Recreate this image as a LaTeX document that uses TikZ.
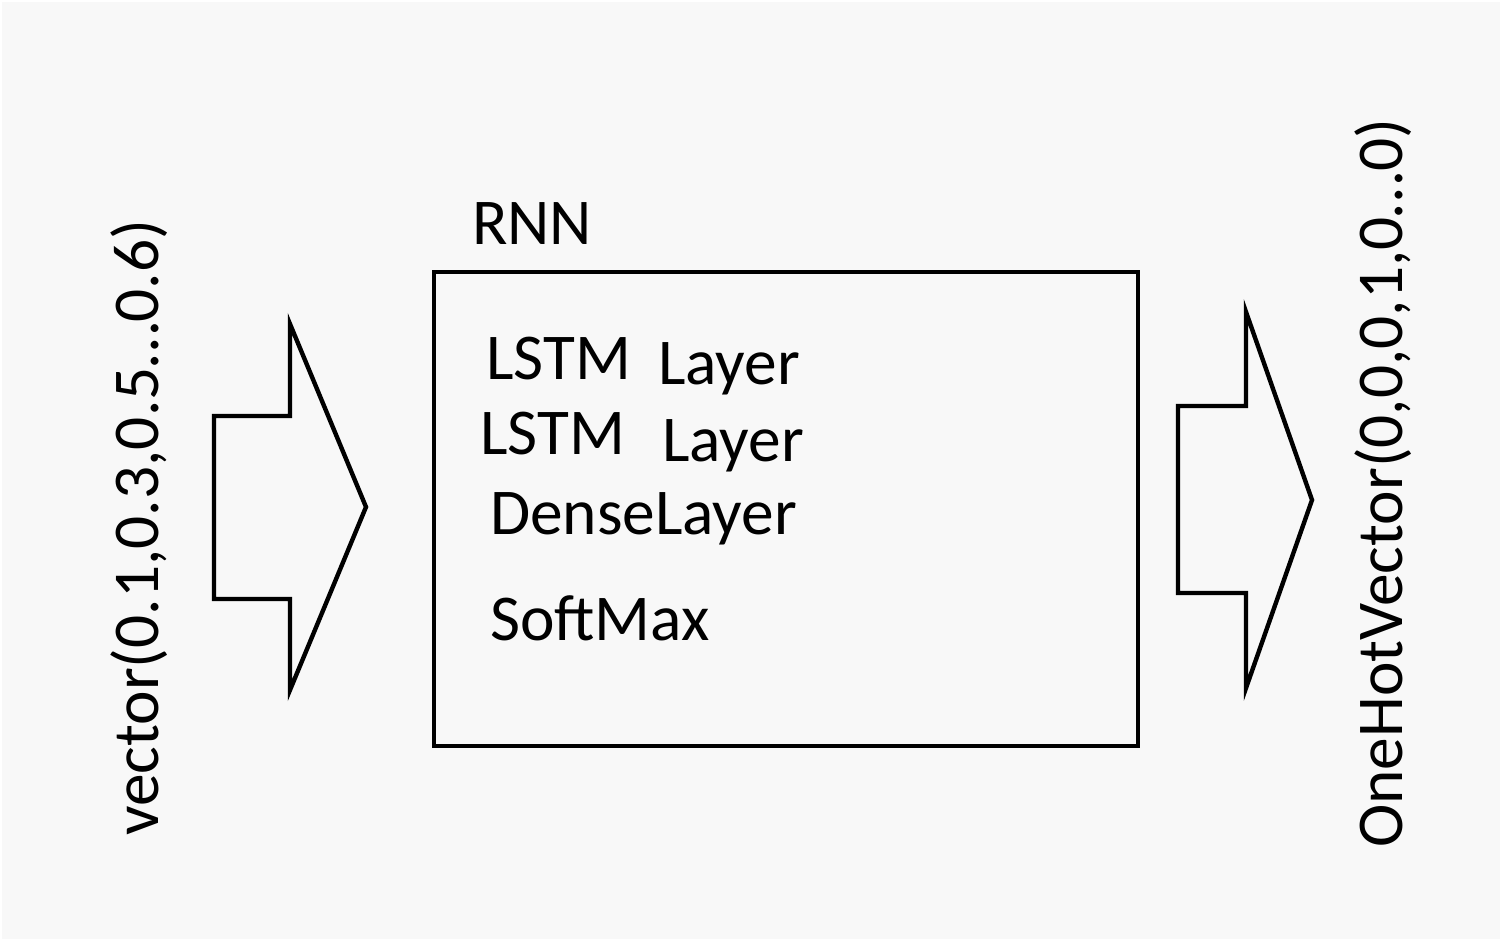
\documentclass[tikz,border=0pt]{standalone}
\usepackage{fontspec}
\setmainfont{Carlito}
\usepackage{tikz}
\definecolor{bggray}{HTML}{F8F8F8}

\begin{document}
\begin{tikzpicture}[line width=1.25pt, line join=miter,
    lbl/.style={inner sep=0pt, anchor=base west, font=\fontsize{18.6}{22}\selectfont}]
            % background
            \fill[white](0, 0)rectangle(15.02, 9.41);
            \fill[bggray](.02, .02)rectangle(15.0, 9.39);
            \useasboundingbox(0, 0)rectangle(15.02, 9.41);
            % input arrow
            \draw(2.14, 5.25)--(2.90, 5.25)--(2.90, 6.17)--(3.66, 4.34)--(2.90, 2.51)--(2.90, 3.42)--(2.14, 3.42)--cycle;
            % output arrow
            \draw(11.78, 5.35)--(12.46, 5.35)--(12.46, 6.29)--(13.12, 4.41)--(12.46, 2.53)--(12.46, 3.48)--(11.78, 3.48)--cycle;
            % RNN box
            \draw(4.34, 1.95)rectangle(11.38, 6.69);
            \node[lbl](rnn) at (4.70, 6.96){RNN};
            \node[lbl](lstmA) at (4.84, 5.61){LSTM};
            \node[lbl](layerA) at (6.56, 5.56){Layer};
            \node[lbl](lstmB) at (4.78, 4.86){LSTM};
            \node[lbl](layerB) at (6.60, 4.79){Layer};
            \node[lbl](dense) at (4.88, 4.06){DenseLayer};
            \node[lbl](softmax) at (4.88, 3.01){SoftMax};
            % rotated input / output labels
            \node[lbl, rotate=90](invec) at (1.58, 1.03){vector(0.1,0.3,0.5…0.6)};
            \node[lbl, rotate=90](outvec) at (14.02, 0.91){OneHotVector(0,0,0,1,0…0)};
        \end{tikzpicture}
\end{document}
